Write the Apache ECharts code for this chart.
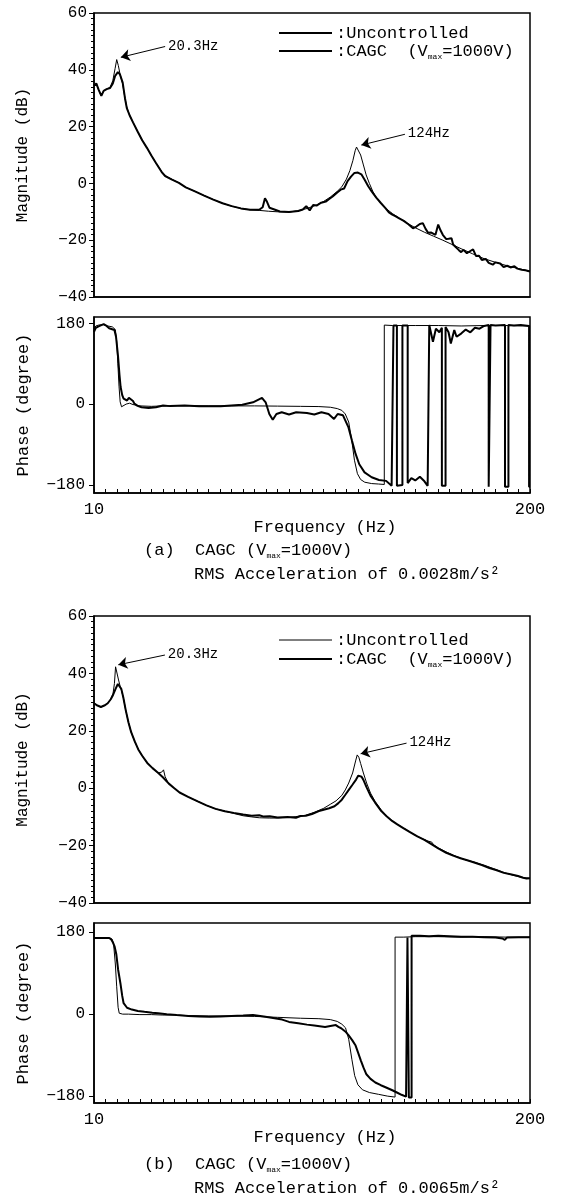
<!DOCTYPE html>
<html>
<head>
<meta charset="utf-8">
<title>CAGC frequency response</title>
<script src="https://cdn.jsdelivr.net/npm/echarts@6/dist/echarts.min.js"></script>
<style>
  html, body { margin: 0; padding: 0; background: #fff; }
  #chart { width: 561px; height: 1193px; }
</style>
</head>
<body>
<div id="chart"></div>
<script>
// ---- data: [frequency Hz, value] ----
var magTicks = [-40, -20, 0, 20, 40, 60];
var phaseTicks = [-180, 0, 180];
var freqTicks = [10, 200];

// (a) RMS 0.0028 m/s^2
var magA_unc = [[10,34.4],[11,35.2],[12,33],[13.2,30.8],[14.2,32.6],[15.5,33.2],[17,33.8],[18.2,36.2],[19.2,40.5],[19.9,43.6],[20.6,41.5],[21.4,38.3],[22.5,35],[23.5,30],[24.3,26.8],[25.5,24],[27,21.5],[29,18.3],[31,15.2],[33,12.6],[35,9.8],[37,7.2],[39.5,4.2],[41,2.8],[44,1.4],[47,0.2],[50,-1.4],[54,-2.8],[58,-4.3],[62,-5.7],[66,-7],[70,-8],[74,-8.8],[78,-9.3],[82,-9.5],[86,-9.8],[90,-10],[95,-10.1],[99,-9.6],[103,-8.8],[107,-7.6],[110,-6.4],[113,-4.8],[116,-2.8],[118,-1.2],[120,1.5],[121.5,4.5],[122.8,8],[123.8,11.5],[124.4,12.8],[125.2,12.2],[126.2,10],[127.4,6.5],[128.6,3],[130,0],[131.5,-2.8],[133,-5],[135,-7],[137.5,-9],[140,-10.6],[143,-12.2],[146,-13.8],[150,-15.6],[154,-17.2],[158,-18.6],[162,-20],[166,-21.5],[170,-23],[175,-24.8],[180,-26.5],[185,-27.8],[190,-29],[195,-30],[200,-31]];
var magA_cagc = [[10,34.4],[11,35.2],[12,33],[13.2,30.8],[14.2,32.6],[15.5,33.2],[17,33.6],[18.2,35.2],[19.2,37.8],[20.4,39.2],[21.3,38.4],[22.5,35.5],[23.5,30],[24.3,26.5],[25.5,24],[27,21.5],[29,18.3],[31,15.2],[33,12.6],[35,9.8],[37,7.2],[39.5,4],[41,2.6],[44,1.3],[47,0.2],[50,-1.4],[54,-2.8],[58,-4.3],[62,-5.7],[66,-7],[70,-8],[74,-8.8],[78,-9.3],[82,-9.3],[83.5,-8.4],[84.5,-5.2],[85.4,-6.5],[86.5,-8.6],[88,-9],[91,-9.9],[95,-10.1],[99,-9.7],[101,-9.2],[102.5,-8],[104,-9.5],[105.5,-7.6],[107,-7.8],[109,-6.8],[111,-6.4],[112.5,-5.5],[114,-4.6],[116,-3.2],[117.5,-2.2],[119,-1.8],[120.5,0.8],[122,2.4],[123.5,3.7],[125,3.8],[126.5,3.2],[128,1.2],[129.5,-1],[131,-2.8],[133,-5],[135,-6.9],[137,-8.7],[138.5,-10.2],[140,-11],[141.5,-11.6],[143,-12.3],[145,-13.2],[147,-14.4],[149,-15.8],[150.5,-15.2],[152,-14.3],[153.3,-14],[154.5,-16],[155.6,-17.4],[157,-17.3],[158.8,-18.1],[159.5,-16],[160,-14.5],[161,-16.5],[162,-18.1],[163.5,-19.6],[164.5,-19.5],[165.8,-19.3],[166.5,-21.5],[167.5,-22.3],[169,-23.5],[170,-24.2],[171,-23.4],[172.5,-24.6],[174,-23.8],[175.2,-23.2],[176.5,-25.6],[177.8,-25.5],[179,-27],[180.7,-26.6],[182,-28],[183.8,-28.6],[185,-27.8],[187,-28.2],[188.5,-29.5],[190,-29],[191.5,-29.6],[193.2,-29.2],[194.5,-30],[196.4,-30.4],[198,-30.6],[200,-31]];
var phaseA_unc = [[10,168],[10.8,174],[12,176],[14,177],[16,174],[18,172],[19.3,166],[19.9,140],[20.4,90],[20.9,40],[21.4,5],[22,-6],[22.8,-4],[24,0],[25.5,2],[27,-1],[30,-4],[35,-5],[40,-4],[50,-3.5],[60,-4],[70,-4],[80,-4],[90,-4.5],[100,-5],[108,-5.5],[113,-7],[116,-10],[118,-14],[119.5,-22],[121,-40],[122.3,-80],[123.5,-125],[124.8,-155],[126.2,-168],[128,-174],[131,-177],[134,-178],[136.5,-179],[136.5,176],[140,175],[150,175],[160,175],[170,174],[180,175],[190,175],[200,174]];
var phaseA_cagc = [[10,161],[10.8,170],[12,173],[14.2,178],[15.5,174],[16.6,169],[18.9,165],[19.6,150],[20.5,105],[21.1,65],[21.6,38],[22.3,20],[22.9,12],[24.4,8],[25.2,14],[26,16],[27,7],[27.6,1],[29,-4],[30.7,-7],[33.8,-8.5],[37,-7],[40.1,-3],[43.2,-4.5],[49.5,-3],[55.8,-5],[65.2,-5],[74.6,-1.5],[79.3,4],[83.2,14],[84.8,4],[86.4,-22],[87.9,-35],[89.5,-22],[91.8,-18],[95,-23],[98.1,-18],[102.8,-20],[106,-23],[109.1,-18],[112.2,-22],[114.6,-33],[116.2,-22],[118.5,-25],[120.9,-52],[122.4,-81],[124,-111],[125.6,-134],[127.9,-152],[131,-163],[134.2,-169],[137.3,-171],[139.7,-182],[140.5,-182],[140.5,175],[142,175],[142,-182],[144.4,-180],[144.4,175],[146.7,175],[146.7,-176],[148.3,-165],[150,-170],[152,-162],[154,-172],[155.4,-182],[156.1,-182],[156.1,176],[157.7,139],[159,168],[160.5,160],[161.6,170],[161.6,-182],[163.2,-182],[163.2,172],[164.5,160],[165.5,135],[167,165],[168,150],[170,157],[172,166],[174,160],[176,170],[178,168],[180,174],[182,176],[182,-184],[182.8,-184],[182.8,176],[185,175],[189.1,176],[189.1,-184],[190.6,-184],[190.6,176],[193,175],[196,176],[199.6,174],[199.6,-184],[200,-184]];

// (b) RMS 0.0065 m/s^2
var magB_unc = [[10,29.6],[11.5,28.8],[13,28.3],[14.5,28.8],[16,29.6],[17.3,31],[18.3,33],[18.9,36.5],[19.4,42.3],[20,41.7],[20.7,37.7],[21.4,35.5],[22,34],[22.8,31.5],[23.8,27.3],[25,23],[26.2,19.5],[27.8,16.2],[29.3,13.5],[31,11.3],[33.2,8.8],[35.5,7],[37.9,5.3],[39.5,5.6],[40.3,6.4],[41,4],[42.6,1.5],[45,0],[47.3,-1.5],[51,-3],[55.2,-4.6],[59,-6],[63,-7.2],[67,-8],[70.9,-8.8],[75,-9.6],[78.7,-10],[82,-10.3],[86.6,-10.4],[90,-10.4],[94.4,-10.2],[98,-9.9],[102.3,-9.4],[106,-8.4],[110.1,-7],[113,-5.6],[115.5,-4.4],[118,-2.5],[119.5,-0.6],[121,1.8],[122.7,5.3],[124,9.5],[124.7,11.6],[125.4,10.8],[126.2,8.6],[127.4,5.3],[128.8,1.8],[130.5,-1.7],[132.5,-4.6],[135,-7.4],[137.5,-9.6],[140,-11.4],[143,-13],[146,-14.4],[150,-16.4],[153,-17.6],[155.5,-18.4],[157.2,-18.8],[158,-19.7],[160,-20.8],[164,-22.4],[168,-23.8],[172,-25],[176,-25.8],[180,-26.8],[184,-28],[188,-29.2],[192,-30.2],[196,-31],[200,-31.4]];
var magB_cagc = [[10,29.6],[11.5,28.8],[13,28.3],[14.5,28.8],[16,29.6],[17.3,31],[18.3,32.5],[19.4,34.6],[20.4,36.3],[21.2,36],[21.9,34.6],[22.8,31.5],[23.8,27.3],[25,23],[26.2,19.5],[27.8,16.2],[29.3,13.5],[31,11.3],[33.2,8.8],[35.5,7],[37.9,5.4],[40,3.8],[42.6,1.6],[45,0],[47.3,-1.5],[51,-3],[55.2,-4.6],[59,-6],[63,-7.2],[67,-8],[70.9,-8.6],[75,-9.2],[78.7,-9.6],[82,-9.4],[84,-9.9],[86.6,-9.8],[90,-10.2],[94.4,-10],[98,-10.3],[100,-9.7],[102.3,-9.6],[105,-9],[108,-8],[110.1,-7.5],[112.5,-7],[114.8,-6.3],[116.5,-5.2],[118,-4],[119.6,-2.2],[121.1,-0.5],[122.7,1.3],[124.2,3],[125.2,4.4],[125.8,4.7],[126.6,4],[127.4,2.9],[128.8,0.3],[130.5,-2.6],[132.5,-5],[135.2,-8],[137.5,-9.8],[139.9,-11.4],[142,-12.5],[144.6,-13.8],[147.5,-15.2],[150.9,-16.8],[154,-18],[157.2,-19.6],[160,-21],[163.5,-22.5],[166.5,-23.5],[169.7,-24.4],[173,-25.2],[176,-26],[179,-26.8],[182.3,-27.8],[185.5,-28.6],[188.6,-29.5],[191.5,-30],[194.8,-30.6],[197,-31.2],[198.5,-31.5],[200,-31.4]];
var phaseB_unc = [[10,167],[12,167],[15,167],[17,167],[18,164],[18.6,150],[19.3,110],[19.9,60],[20.5,15],[21,2],[22.5,0],[25,0],[30,-1],[35,-1],[40,-2],[45,-2],[50,-3],[60,-4],[70,-4],[80,-5],[90,-7],[100,-9],[108,-10],[113,-12],[116,-16],[118,-22],[119.6,-30],[121,-55],[122.4,-100],[123.6,-135],[125,-155],[127,-166],[130,-172],[134,-176],[138,-180],[141.2,-182],[141.2,169],[145,169],[150,170],[160,170],[170,169],[180,170],[190,169],[200,169]];
var phaseB_cagc = [[10,167],[13,167],[16.6,167],[17.5,164],[18.2,158],[19,148],[19.7,132],[20.5,98],[21.6,65],[22.3,40],[22.9,24],[24.4,14],[26.5,10],[29.1,7],[32,5],[35.4,3],[38,2],[41.7,0],[46,-2],[51.1,-4],[56,-5],[60.5,-6],[65,-5],[69.9,-4],[75,-3],[79.3,-2],[84,-5],[88.7,-9],[92,-12],[95,-17],[99,-20],[102.8,-23],[106,-25],[110.7,-28],[113,-26],[115.4,-24],[116.5,-28],[117.7,-31],[119.5,-38],[120.9,-46],[122.5,-57],[124,-69],[125.2,-86],[126.3,-102],[127.5,-118],[128.7,-132],[130.5,-142],[132.6,-150],[135,-156],[137.3,-161],[140,-167],[142,-172],[144,-177],[146,-181],[146.6,-182],[146.6,168],[147.2,168],[147.2,-183],[148.4,-183],[148.4,172],[152,172],[156,171],[160,172],[165,171],[170,170],[175,170],[180,169],[185,168],[188,166],[189,163],[190,168],[195,169],[200,169]];

// peak call-outs: [label start], [arrow tip], text
var noteA1 = [[41, 48.2], [21.7, 44.4], '20.3Hz'];
var noteA2 = [[145.5, 17.3], [126.5, 13.5], '124Hz'];
var noteB1 = [[40.9, 46.4], [20.6, 43], '20.3Hz'];
var noteB2 = [[146.2, 15.7], [126.2, 12], '124Hz'];

var FONT = 'Liberation Mono';
var minus = function (v) { return String(v).replace('-', '\u2212'); };

var chart = echarts.init(document.getElementById('chart'));

var gridBox = { show: true, borderColor: '#000', borderWidth: 1.5, left: 94, width: 436 };
var grids = [
  Object.assign({ top: 13, height: 284 }, gridBox),
  Object.assign({ top: 317, height: 176 }, gridBox),
  Object.assign({ top: 616, height: 287 }, gridBox),
  Object.assign({ top: 923, height: 180 }, gridBox)
];

function xAxis(i, isPhase) {
  return {
    gridIndex: i, type: 'value', min: 10, max: 200, interval: 5,
    axisLine: { onZero: false, lineStyle: { color: '#000', width: 1.5 } },
    axisTick: { show: isPhase, inside: true, length: 4, lineStyle: { color: '#000' } },
    axisLabel: { show: isPhase, customValues: freqTicks, margin: 8, color: '#000', fontFamily: FONT, fontSize: 17 },
    splitLine: { show: false },
    name: isPhase ? 'Frequency (Hz)' : '',
    nameLocation: 'middle', nameGap: 8,
    nameTextStyle: { color: '#000', fontFamily: FONT, fontSize: 17, padding: [0, 0, 0, 26] }
  };
}

function magAxis(i) {
  return {
    gridIndex: i, type: 'value', min: -40, max: 60, interval: 20,
    axisLine: { onZero: false, lineStyle: { color: '#000', width: 1.5 } },
    axisTick: { length: 5, lineStyle: { color: '#000' } },
    minorTick: { show: true, splitNumber: 10, length: 3, lineStyle: { color: '#000' } },
    axisLabel: { formatter: minus, margin: 7, color: '#000', fontFamily: FONT, fontSize: 16 },
    splitLine: { show: false },
    name: 'Magnitude (dB)', nameLocation: 'middle', nameGap: 63,
    nameTextStyle: { color: '#000', fontFamily: FONT, fontSize: 16 }
  };
}

function phaseAxis(i, lo, hi) {
  return {
    gridIndex: i, type: 'value', min: lo, max: hi,
    axisLine: { onZero: false, lineStyle: { color: '#000', width: 1.5 } },
    axisTick: { customValues: phaseTicks, length: 5, lineStyle: { color: '#000' } },
    axisLabel: { customValues: phaseTicks, formatter: minus, margin: 9, color: '#000', fontFamily: FONT, fontSize: 16 },
    splitLine: { show: false },
    name: 'Phase (degree)', nameLocation: 'middle', nameGap: 62,
    nameTextStyle: { color: '#000', fontFamily: FONT, fontSize: 17 }
  };
}

function curve(name, data, i, width, note) {
  var s = {
    name: name, type: 'line', data: data, xAxisIndex: i, yAxisIndex: i,
    symbol: 'none', color: '#000', lineStyle: { width: width, color: '#000' },
    animation: false
  };
  if (note) {
    s.markLine = {
      silent: true, animation: false,
      symbol: ['none', 'arrow'], symbolSize: 9,
      lineStyle: { type: 'solid', color: '#000', width: 1 },
      label: { show: true, position: 'start', distance: 3, color: '#000', fontFamily: FONT, fontSize: 14 },
      data: note.map(function (n) {
        return [{ coord: n[0], label: { formatter: n[2] } }, { coord: n[1] }];
      })
    };
  }
  return s;
}

var richSub = {
  n: { fontFamily: FONT, fontSize: 17, lineHeight: 20, color: '#000' },
  s: { fontFamily: FONT, fontSize: 8, lineHeight: 20, verticalAlign: 'bottom', color: '#000' }
};

function legendItems(y1, y2, firstWidth) {
  var txt = { fill: '#000', fontFamily: FONT, fontSize: 17, verticalAlign: 'middle' };
  return [
    { type: 'line', shape: { x1: 279, y1: y1, x2: 332, y2: y1 }, style: { stroke: '#000', lineWidth: firstWidth } },
    { type: 'text', x: 336, y: y1, style: Object.assign({ text: ':Uncontrolled' }, txt) },
    { type: 'line', shape: { x1: 279, y1: y2, x2: 332, y2: y2 }, style: { stroke: '#000', lineWidth: 2.2 } },
    { type: 'text', x: 336, y: y2, style: Object.assign({ text: '{n|:CAGC  (V}{s|max}{n|=1000V)}', rich: richSub }, txt) }
  ];
}

function caption(y, tag, accel) {
  var txt = { fill: '#000', fontFamily: FONT, fontSize: 17, verticalAlign: 'middle' };
  return [
    { type: 'text', x: 144, y: y, style: Object.assign({ text: '{n|' + tag + '  CAGC (V}{s|max}{n|=1000V)}', rich: richSub }, txt) },
    { type: 'text', x: 194, y: y + 24, style: Object.assign({ text: 'RMS Acceleration of ' + accel + 'm/s\u00b2' }, txt) }
  ];
}

chart.setOption({
  backgroundColor: '#fff',
  animation: false,
  grid: grids,
  xAxis: [xAxis(0, false), xAxis(1, true), xAxis(2, false), xAxis(3, true)],
  yAxis: [magAxis(0), phaseAxis(1, -198, 194), magAxis(2), phaseAxis(3, -195, 200)],
  series: [
    curve('Uncontrolled', magA_unc, 0, 1),
    curve('CAGC', magA_cagc, 0, 2, [noteA1, noteA2]),
    curve('Uncontrolled', phaseA_unc, 1, 1),
    curve('CAGC', phaseA_cagc, 1, 2),
    curve('Uncontrolled', magB_unc, 2, 1),
    curve('CAGC', magB_cagc, 2, 2, [noteB1, noteB2]),
    curve('Uncontrolled', phaseB_unc, 3, 1),
    curve('CAGC', phaseB_cagc, 3, 2)
  ],
  graphic: [].concat(
    legendItems(33, 51, 2),
    legendItems(640, 659, 1),
    caption(550, '(a)', '0.0028'),
    caption(1164, '(b)', '0.0065')
  )
});
</script>
</body>
</html>
